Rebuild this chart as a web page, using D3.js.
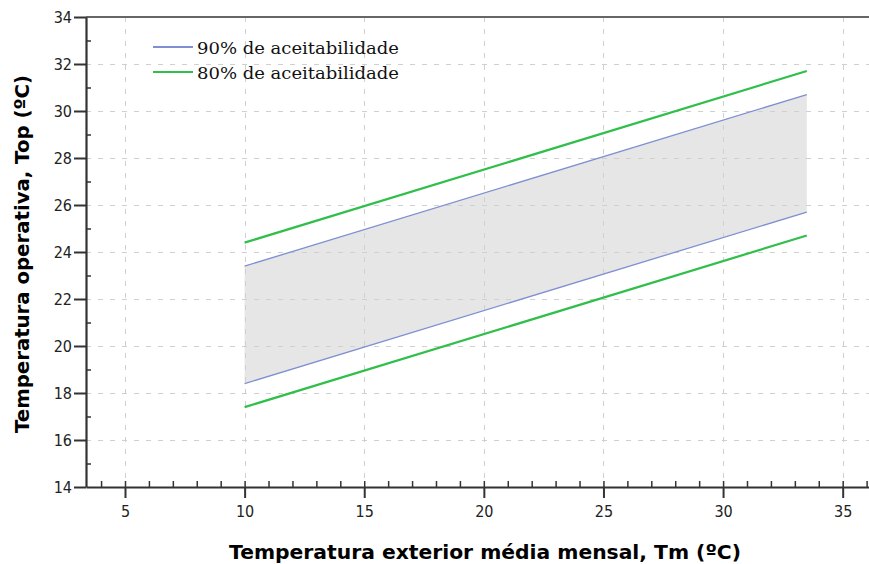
<!DOCTYPE html>
<html>
<head>
<meta charset="utf-8" />
<title></title>
<style>
html, body {
    padding: 0px;
    margin: 0px;
    background: #fff;
}
.grid line {
    stroke: #d0d0d0;
    stroke-dasharray: 5 7;
}
.tick text {
    font-family: "DejaVu Sans Condensed", "DejaVu Sans", sans-serif;
    font-size: 16px;
    fill: #222;
}
</style>
</head>
<body>
<svg id="chart" width="869" height="564"></svg>
<script src="https://cdnjs.cloudflare.com/ajax/libs/d3/7.8.5/d3.min.js"></script>
<script>
!(function(){
    "use strict"

    // temperatura exterior média mensal (ºC)
    var tm = [10, 33.5]
    // limites de 90% e 80% de aceitabilidade (ºC)
    var upper90 = [23.4, 30.7]
    var lower90 = [18.4, 25.7]
    var upper80 = [24.4, 31.7]
    var lower80 = [17.4, 24.7]

    var xTicks = [5, 10, 15, 20, 25, 30, 35]
    var yTicks = [14, 16, 18, 20, 22, 24, 26, 28, 30, 32, 34]
    var legendLabels = ["90% de aceitabilidade", "80% de aceitabilidade"]
    var legendColors = ["#7f8fd2", "#2fbf4a"]

    var svg = d3.select("#chart")

    var x = d3.scaleLinear().domain([3.37, 36.1]).range([86, 869])
    var y = d3.scaleLinear().domain([14, 34]).range([487, 17])

    // banda de 90%
    var area = d3.area()
        .x(function(d, i){ return x(tm[i]) })
        .y0(function(d, i){ return y(lower90[i]) })
        .y1(function(d){ return y(d) })
    svg.append("path")
        .datum(upper90)
        .attr("d", area)
        .attr("fill", "#e6e6e6")

    // grelha
    var grid = svg.append("g").attr("class", "grid")
    grid.selectAll(".gx")
        .data(xTicks)
        .enter().append("line")
        .attr("x1", function(d){ return Math.round(x(d)) + 0.5 })
        .attr("x2", function(d){ return Math.round(x(d)) + 0.5 })
        .attr("y1", y(34)).attr("y2", y(14))
    grid.selectAll(".gy")
        .data(yTicks.slice(1, -1))
        .enter().append("line")
        .attr("y1", function(d){ return Math.round(y(d)) + 0.5 })
        .attr("y2", function(d){ return Math.round(y(d)) + 0.5 })
        .attr("x1", x.range()[0]).attr("x2", 869)

    // linhas
    var line = d3.line()
        .x(function(d, i){ return x(tm[i]) })
        .y(function(d){ return y(d) })
    ;[upper90, lower90].forEach(function(s){
        svg.append("path").datum(s).attr("d", line)
            .attr("fill", "none").attr("stroke", legendColors[0]).attr("stroke-width", 1.3)
    })
    ;[upper80, lower80].forEach(function(s){
        svg.append("path").datum(s).attr("d", line)
            .attr("fill", "none").attr("stroke", legendColors[1]).attr("stroke-width", 2.2)
    })

    // moldura superior
    svg.append("line")
        .attr("x1", 86).attr("x2", 869)
        .attr("y1", 17).attr("y2", 17)
        .attr("stroke", "#666").attr("stroke-width", 2)

    // eixos: tracos menores para dentro
    var xMinor = d3.range(4, 37)
    svg.append("g")
        .attr("transform", "translate(0," + y(14) + ")")
        .call(d3.axisTop(x).tickValues(xMinor).tickSize(6).tickFormat(""))
        .call(function(g){ g.select(".domain").remove() })
        .selectAll("line").attr("stroke", "#333").attr("stroke-width", 1.5)
    var yMinor = d3.range(15, 34, 2)
    svg.append("g")
        .attr("transform", "translate(" + x.range()[0] + ",0)")
        .call(d3.axisRight(y).tickValues(yMinor).tickSize(5).tickFormat(""))
        .call(function(g){ g.select(".domain").remove() })
        .selectAll("line").attr("stroke", "#333").attr("stroke-width", 1.5)

    var xAxis = svg.append("g")
        .attr("transform", "translate(0," + y(14) + ")")
        .call(d3.axisBottom(x).tickValues(xTicks).tickSize(11).tickSizeOuter(0).tickPadding(8))
    xAxis.select(".domain").attr("stroke", "#333").attr("stroke-width", 2.2)
    xAxis.selectAll(".tick line").attr("stroke", "#333").attr("stroke-width", 2)

    var yAxis = svg.append("g")
        .attr("transform", "translate(" + x.range()[0] + ",0)")
        .call(d3.axisLeft(y).tickValues(yTicks).tickSize(12).tickSizeOuter(0).tickPadding(2))
    yAxis.select(".domain").attr("stroke", "#333").attr("stroke-width", 2.2)
    yAxis.selectAll(".tick line").attr("stroke", "#333").attr("stroke-width", 2)

    // titulos
    svg.append("text")
        .attr("x", 485).attr("y", 559)
        .attr("text-anchor", "middle")
        .attr("textLength", 512).attr("lengthAdjust", "spacingAndGlyphs")
        .style("font-family", "'DejaVu Sans', sans-serif")
        .style("font-weight", "bold").style("font-size", "20px")
        .text("Temperatura exterior média mensal, Tm (ºC)")
    svg.append("text")
        .attr("transform", "translate(29,254) rotate(-90)")
        .attr("text-anchor", "middle")
        .attr("textLength", 358).attr("lengthAdjust", "spacingAndGlyphs")
        .style("font-family", "'DejaVu Sans', sans-serif")
        .style("font-weight", "bold").style("font-size", "20px")
        .text("Temperatura operativa, Top (ºC)")

    // legenda
    var legend = svg.append("g").attr("transform", "translate(153,47)")
    legendLabels.forEach(function(l, i){
        var g = legend.append("g").attr("transform", "translate(0," + i * 25 + ")")
        g.append("line").attr("x1", 0).attr("x2", 40)
            .attr("stroke", legendColors[i]).attr("stroke-width", 2)
        g.append("text").attr("x", 44).attr("y", 7)
            .attr("textLength", 202).attr("lengthAdjust", "spacingAndGlyphs")
            .style("font-family", "'DejaVu Serif Condensed', 'DejaVu Serif', serif")
            .style("font-size", "17px").attr("fill", "#111")
            .text(l)
    })
}());
</script>
</body>
</html>
